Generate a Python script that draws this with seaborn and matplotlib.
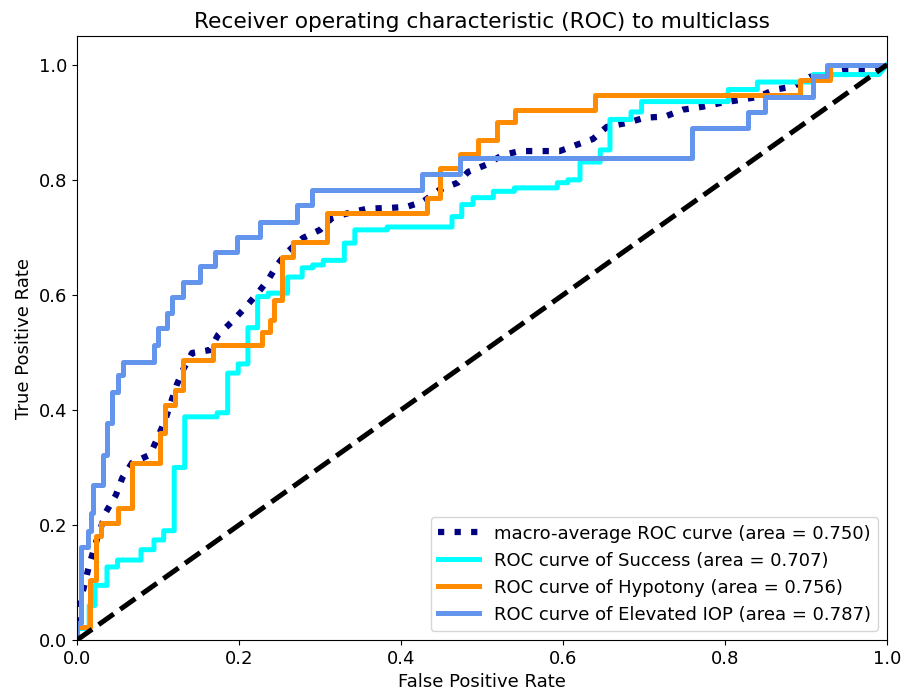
import matplotlib
matplotlib.use("Agg")
import matplotlib.pyplot as plt
import seaborn as sns

# ROC curve vertices
success_fpr = [0.0, 0.0, 0.015, 0.015, 0.022, 0.022, 0.037, 0.037, 0.05, 0.05, 0.079, 0.079,
               0.095, 0.095, 0.107, 0.107, 0.12, 0.12, 0.133, 0.133, 0.173, 0.173, 0.186, 0.186,
               0.199, 0.199, 0.211, 0.211, 0.223, 0.223, 0.236, 0.236, 0.26, 0.26, 0.278, 0.278,
               0.291, 0.291, 0.304, 0.304, 0.33, 0.33, 0.343, 0.343, 0.383, 0.383, 0.463, 0.463,
               0.475, 0.475, 0.489, 0.489, 0.514, 0.514, 0.54, 0.54, 0.593, 0.593, 0.606, 0.606,
               0.621, 0.621, 0.646, 0.646, 0.658, 0.658, 0.684, 0.684, 0.697, 0.697, 0.804, 0.804,
               0.84, 0.84, 0.909, 0.909, 0.99, 1.0]
success_tpr = [0.0, 0.02, 0.02, 0.06, 0.06, 0.095, 0.095, 0.127, 0.127, 0.139, 0.139, 0.157,
               0.157, 0.174, 0.174, 0.19, 0.19, 0.30, 0.30, 0.388, 0.388, 0.395, 0.395, 0.464,
               0.464, 0.48, 0.48, 0.543, 0.543, 0.597, 0.597, 0.603, 0.603, 0.631, 0.631, 0.647,
               0.647, 0.652, 0.652, 0.66, 0.66, 0.69, 0.69, 0.713, 0.713, 0.718, 0.718, 0.736,
               0.736, 0.757, 0.757, 0.769, 0.769, 0.78, 0.78, 0.786, 0.786, 0.795, 0.795, 0.80,
               0.80, 0.831, 0.831, 0.852, 0.852, 0.905, 0.905, 0.918, 0.918, 0.936, 0.936, 0.957,
               0.957, 0.97, 0.97, 0.983, 0.983, 1.0]

hypotony_fpr = [0.0, 0.0, 0.016, 0.016, 0.023, 0.023, 0.03, 0.03, 0.05, 0.05, 0.068, 0.068,
                0.102, 0.102, 0.109, 0.109, 0.121, 0.121, 0.131, 0.131, 0.168, 0.168, 0.228, 0.228,
                0.238, 0.238, 0.243, 0.243, 0.253, 0.253, 0.267, 0.267, 0.309, 0.309, 0.432, 0.432,
                0.448, 0.448, 0.473, 0.473, 0.495, 0.495, 0.518, 0.518, 0.541, 0.541, 0.64, 0.64,
                0.893, 0.893, 0.93, 0.93, 1.0]
hypotony_tpr = [0.0, 0.023, 0.023, 0.104, 0.104, 0.18, 0.18, 0.203, 0.203, 0.23, 0.23, 0.307,
                0.307, 0.36, 0.36, 0.409, 0.409, 0.435, 0.435, 0.487, 0.487, 0.513, 0.513, 0.536,
                0.536, 0.557, 0.557, 0.591, 0.591, 0.666, 0.666, 0.692, 0.692, 0.743, 0.743, 0.769,
                0.769, 0.821, 0.821, 0.845, 0.845, 0.87, 0.87, 0.9, 0.9, 0.922, 0.922, 0.948,
                0.948, 0.974, 0.974, 1.0, 1.0]

elevated_fpr = [0.0, 0.0, 0.005, 0.005, 0.013, 0.013, 0.017, 0.017, 0.02, 0.02, 0.032, 0.032,
                0.037, 0.037, 0.043, 0.043, 0.05, 0.05, 0.057, 0.057, 0.095, 0.095, 0.1, 0.1,
                0.111, 0.111, 0.117, 0.117, 0.131, 0.131, 0.152, 0.152, 0.17, 0.17, 0.197, 0.197,
                0.226, 0.226, 0.271, 0.271, 0.29, 0.29, 0.426, 0.426, 0.473, 0.473, 0.759, 0.759,
                0.829, 0.829, 0.85, 0.85, 0.909, 0.909, 0.926, 0.926, 1.0]
elevated_tpr = [0.0, 0.03, 0.03, 0.162, 0.162, 0.19, 0.19, 0.22, 0.22, 0.27, 0.27, 0.322,
                0.322, 0.377, 0.377, 0.431, 0.431, 0.46, 0.46, 0.483, 0.483, 0.513, 0.513, 0.543,
                0.543, 0.569, 0.569, 0.597, 0.597, 0.623, 0.623, 0.65, 0.65, 0.675, 0.675, 0.70,
                0.70, 0.727, 0.727, 0.757, 0.757, 0.783, 0.783, 0.81, 0.81, 0.838, 0.838, 0.89,
                0.89, 0.918, 0.918, 0.944, 0.944, 0.98, 0.98, 1.0, 1.0]

macro_fpr = [0.0, 0.0, 0.003, 0.015, 0.025, 0.036, 0.048, 0.056, 0.068, 0.090, 0.100, 0.109,
             0.123, 0.131, 0.142, 0.164, 0.174, 0.191, 0.207, 0.223, 0.236, 0.247, 0.260, 0.279,
             0.300, 0.315, 0.337, 0.359, 0.384, 0.407, 0.427, 0.448, 0.470, 0.483, 0.505, 0.525,
             0.547, 0.572, 0.596, 0.617, 0.637, 0.654, 0.679, 0.701, 0.726, 0.748, 0.772, 0.796,
             0.819, 0.840, 0.862, 0.884, 0.905, 0.927, 0.951, 0.975, 1.0]
macro_tpr = [0.0, 0.04, 0.06, 0.130, 0.177, 0.223, 0.252, 0.282, 0.308, 0.322, 0.353, 0.383,
             0.443, 0.470, 0.499, 0.504, 0.530, 0.553, 0.577, 0.603, 0.626, 0.652, 0.675, 0.699,
             0.713, 0.734, 0.743, 0.750, 0.751, 0.753, 0.762, 0.783, 0.795, 0.814, 0.826, 0.843,
             0.850, 0.850, 0.850, 0.861, 0.871, 0.892, 0.899, 0.908, 0.910, 0.922, 0.927, 0.934,
             0.939, 0.944, 0.957, 0.962, 0.979, 0.986, 0.991, 0.991, 1.0]

class_names = ["Success", "Hypotony", "Elevated IOP"]
class_auc = [0.707, 0.756, 0.787]
macro_auc = 0.750
colors = ["aqua", "darkorange", "cornflowerblue"]

plt.rcParams["font.size"] = 13

fig, ax = plt.subplots(figsize=(9.05, 6.98), dpi=100)
fig.subplots_adjust(left=0.0851, right=0.9801, bottom=0.0831, top=0.9484)

sns.lineplot(x=macro_fpr, y=macro_tpr, sort=False, estimator=None, ax=ax,
             color="navy", linestyle=":", linewidth=4.5,
             label="macro-average ROC curve (area = {0:0.3f})".format(macro_auc))

curves = [(success_fpr, success_tpr), (hypotony_fpr, hypotony_tpr), (elevated_fpr, elevated_tpr)]
for (fpr, tpr), name, auc, c in zip(curves, class_names, class_auc, colors):
    sns.lineplot(x=fpr, y=tpr, sort=False, estimator=None, ax=ax, color=c, linewidth=3.6,
                 label="ROC curve of {0} (area = {1:0.3f})".format(name, auc))

ax.plot([0, 1], [0, 1], "k--", lw=3.6)
ax.set_xlim([0.0, 1.0])
ax.set_ylim([0.0, 1.05])
ax.set_xlabel("False Positive Rate")
ax.set_ylabel("True Positive Rate")
ax.set_title("Receiver operating characteristic (ROC) to multiclass")
ax.legend(loc="lower right", handlelength=2.3)

fig.savefig("out.png", dpi=100)
